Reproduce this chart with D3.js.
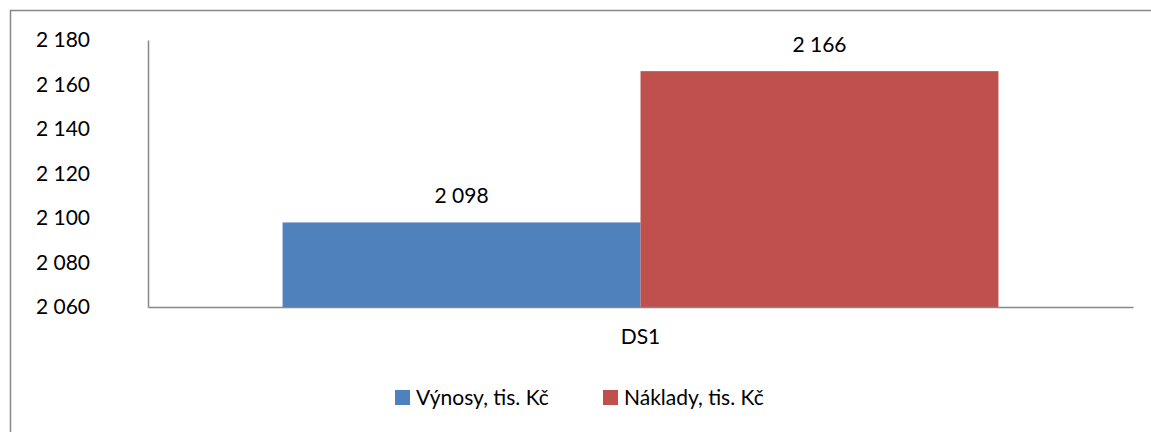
<!DOCTYPE html>
<html>
<head>
<meta charset="utf-8">
<script src="https://d3js.org/d3.v7.min.js"></script>
<style>
  body { margin: 0; background: #fff; }
  text { font-family: Lato, "Open Sans", sans-serif; fill: #000; }
</style>
</head>
<body>
<svg width="1151" height="432"></svg>
<script>
const categories = ["DS1"];
const seriesNames = ["Výnosy, tis. Kč", "Náklady, tis. Kč"];
const seriesValues = [2098, 2166];
const seriesColors = ["#4f81bd", "#c0504d"];
const yTicks = [2060, 2080, 2100, 2120, 2140, 2160, 2180];

const fmt = v => d3.format(",")(v).replace(/,/g, " ");
const fs = 21;

const svg = d3.select("svg");

// outer chart frame (right and bottom edges fall outside the window)
svg.append("rect")
  .attr("x", 10.5).attr("y", 10.5)
  .attr("width", 1200).attr("height", 500)
  .attr("fill", "none").attr("stroke", "#888").attr("stroke-width", 1.5);

const plot = { left: 148, right: 1133, top: 40, bottom: 307 };

const y = d3.scaleLinear().domain([2060, 2180]).range([plot.bottom, plot.top]);
const x0 = d3.scaleBand().domain(categories).range([plot.left, plot.right]).paddingInner(0).paddingOuter(0.188);
const x1 = d3.scaleBand().domain(seriesNames).range([0, x0.bandwidth()]);

// y axis
const yAxis = svg.append("g")
  .attr("transform", `translate(${plot.left},0)`)
  .call(d3.axisLeft(y).tickValues(yTicks).tickSize(0).tickPadding(58).tickFormat(fmt));
yAxis.select(".domain").attr("stroke", "#888").attr("stroke-width", 1.5);
yAxis.selectAll("text").attr("font-size", fs).attr("font-family", "Lato, sans-serif");

// bars
const data = seriesNames.map((s, i) => ({ name: s, value: seriesValues[i], color: seriesColors[i] }));
const grp = svg.append("g").attr("transform", `translate(${x0("DS1")},0)`);
grp.selectAll("rect").data(data).join("rect")
  .attr("x", d => x1(d.name))
  .attr("y", d => y(d.value))
  .attr("width", x1.bandwidth())
  .attr("height", d => y(2060) - y(d.value))
  .attr("fill", d => d.color);

grp.selectAll("text.lbl").data(data).join("text")
  .attr("class", "lbl")
  .attr("x", d => x1(d.name) + x1.bandwidth() / 2)
  .attr("y", d => y(d.value) - 19)
  .attr("text-anchor", "middle")
  .attr("font-size", fs)
  .text(d => fmt(d.value));

// x axis
const xAxis = svg.append("g")
  .attr("transform", `translate(0,${plot.bottom})`)
  .call(d3.axisBottom(x0).tickSize(0).tickPadding(22));
xAxis.select(".domain").attr("stroke", "#888").attr("stroke-width", 1.5);
xAxis.selectAll("text").attr("font-size", fs).attr("font-family", "Lato, sans-serif");

// legend
const legend = svg.append("g");
const legendX = [395, 603];
data.forEach((d, i) => {
  const g = legend.append("g").attr("transform", `translate(${legendX[i]},390)`);
  g.append("rect").attr("width", 15).attr("height", 15).attr("fill", d.color);
  g.append("text").attr("x", 21).attr("y", 15).attr("font-size", fs).text(d.name);
});
</script>
</body>
</html>
